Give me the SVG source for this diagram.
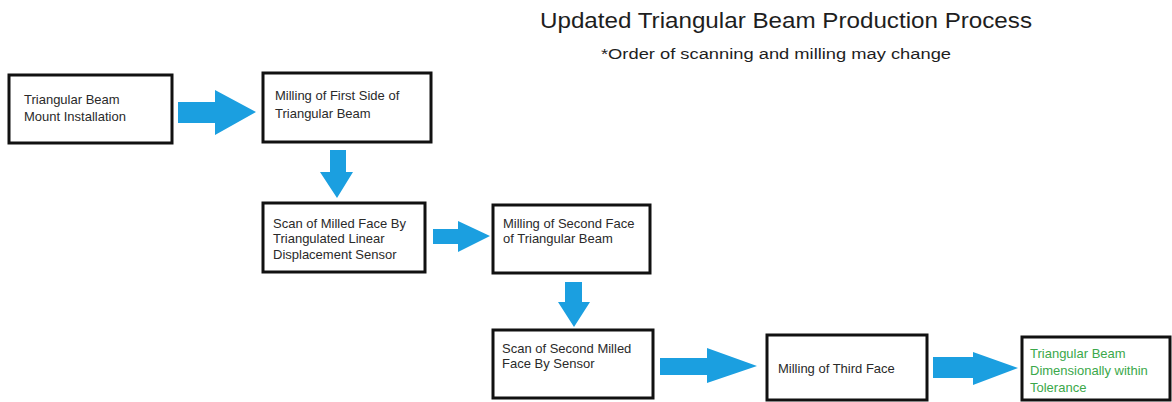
<svg xmlns="http://www.w3.org/2000/svg" width="1172" height="402" viewBox="0 0 1172 402">
<style>
.box{fill:#fff;stroke:#111;stroke-width:3}
.t{font-family:"Liberation Sans",Arial,sans-serif;font-size:13px;fill:#2a2a2a}
.g{fill:#3ba84a}
.arr{fill:#1b9fe0}
.title{font-family:"Liberation Sans",Arial,sans-serif;fill:#1e1e1e}
</style>
<rect width="1172" height="402" fill="#fff"/>
<text class="title" x="786" y="28" font-size="22" text-anchor="middle" textLength="492" lengthAdjust="spacingAndGlyphs">Updated Triangular Beam Production Process</text>
<text class="title" x="776" y="59" font-size="15.5" text-anchor="middle" textLength="350" lengthAdjust="spacingAndGlyphs">*Order of scanning and milling may change</text>
<g id="connectors">
<polygon class="arr" points="178,102 215,102 215,90 256,112 215,135 215,123 178,123"/>
<polygon class="arr" points="330,150 346,150 346,172 353,172 337,198 320,172 330,172"/>
<polygon class="arr" points="433,229 458,229 458,221 490,236 458,252 458,244 433,244"/>
<polygon class="arr" points="565,282 582,282 582,302 590,302 574,327 558,302 565,302"/>
<polygon class="arr" points="660,358 707,358 707,348 757,366 707,383 707,375 660,375"/>
<polygon class="arr" points="933,357 973,357 973,352 1018,368 973,385 973,378 933,378"/>
</g>
<g id="n1"><rect class="box" x="9" y="75" width="163" height="68"/>
<text class="t" x="24" y="104">Triangular Beam</text><text class="t" x="24" y="121">Mount Installation</text></g>
<g id="n2"><rect class="box" x="263" y="73" width="168" height="69"/>
<text class="t" x="275" y="100">Milling of First Side of</text><text class="t" x="275" y="118">Triangular Beam</text></g>
<g id="n3"><rect class="box" x="263" y="203" width="162" height="69"/>
<text class="t" x="273" y="228">Scan of Milled Face By</text><text class="t" x="273" y="243">Triangulated Linear</text><text class="t" x="273" y="259">Displacement Sensor</text></g>
<g id="n4"><rect class="box" x="493" y="205" width="157" height="68"/>
<text class="t" x="503" y="228">Milling of Second Face</text><text class="t" x="503" y="243">of Triangular Beam</text></g>
<g id="n5"><rect class="box" x="493" y="330" width="160" height="68"/>
<text class="t" x="502" y="353">Scan of Second Milled</text><text class="t" x="502" y="368">Face By Sensor</text></g>
<g id="n6"><rect class="box" x="767" y="335" width="160" height="65"/>
<text class="t" x="778" y="373">Milling of Third Face</text></g>
<g id="n7"><rect class="box" x="1022" y="337" width="148" height="63"/>
<text class="t g" x="1030" y="358">Triangular Beam</text><text class="t g" x="1030" y="375">Dimensionally within</text><text class="t g" x="1030" y="392">Tolerance</text></g>
</svg>
